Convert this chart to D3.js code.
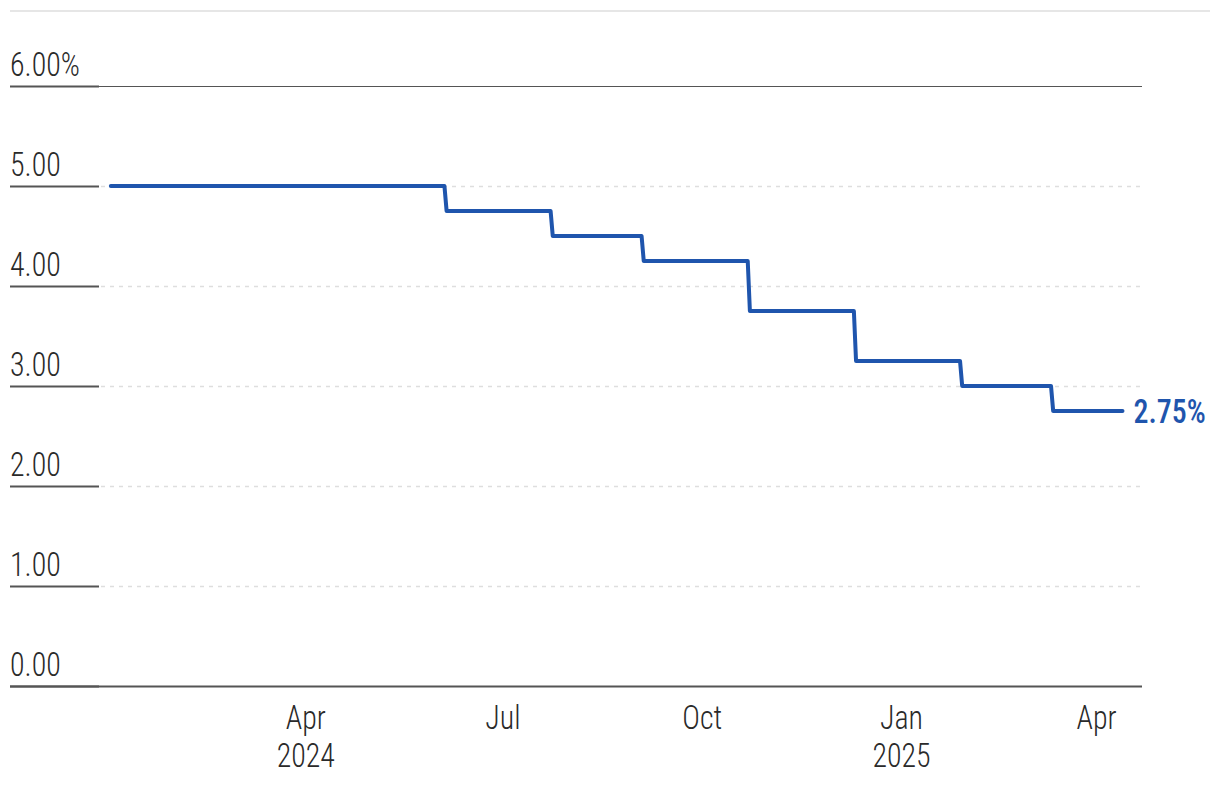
<!DOCTYPE html>
<html><head><meta charset="utf-8">
<script src="https://cdn.jsdelivr.net/npm/d3@7"></script>
<style>
html,body{margin:0;padding:0;background:#fff;}
svg text{font-family:"Liberation Sans Narrow","Roboto Condensed","Arial Narrow",sans-serif;}
</style></head>
<body><svg id="c" width="1220" height="786"></svg>
<script>
// Policy rate (%), daily step changes
const dates = ["2024-01-02","2024-06-04","2024-06-05","2024-07-23","2024-07-24","2024-09-03","2024-09-04","2024-10-22","2024-10-23","2024-12-10","2024-12-11","2025-01-28","2025-01-29","2025-03-11","2025-03-12","2025-04-13"];
const rates = [5.00,5.00,4.75,4.75,4.50,4.50,4.25,4.25,3.75,3.75,3.25,3.25,3.00,3.00,2.75,2.75];
const yTicks = [0,1,2,3,4,5,6];
const yTickLabels = ["0.00","1.00","2.00","3.00","4.00","5.00","6.00%"];
const xTicks = ["2024-04-01","2024-07-01","2024-10-01","2025-01-01","2025-04-01"];
const xTickLabels = [["Apr","2024"],["Jul"],["Oct"],["Jan","2025"],["Apr"]];
const endLabel = "2.75%";

const parse = d3.utcParse("%Y-%m-%d");
const data = dates.map((d,i)=>({date:parse(d), v:rates[i]}));
const svg = d3.select("#c");
const x = d3.scaleUtc().domain([parse("2023-12-28"), parse("2025-04-22")]).range([100,1142]);
const y = d3.scaleLinear().domain([0,6]).range([686,86]);
const FS = 34, SX = 0.88;
const sx = (px,py)=>`translate(${px},${py}) scale(${SX},1) translate(${-px},${-py})`;

// top rule
svg.append("line").attr("x1",10).attr("x2",1210).attr("y1",11).attr("y2",11)
  .attr("stroke","#e6e6e6").attr("stroke-width",2);

// gridlines
const g = svg.append("g");
yTicks.forEach((t,i)=>{
  const yy = Math.round(y(t))+0.5;
  if(t===0 || t===6){
    g.append("line").attr("x1",10).attr("x2",1142).attr("y1",yy).attr("y2",yy)
      .attr("stroke","#555").attr("stroke-width",t===0?2:1.2);
  } else {
    g.append("line").attr("x1",101).attr("x2",1142).attr("y1",yy).attr("y2",yy)
      .attr("stroke","#dedede").attr("stroke-width",1.5).attr("stroke-dasharray","4,5");
  }
  g.append("line").attr("x1",10).attr("x2",99).attr("y1",yy).attr("y2",yy)
    .attr("stroke","#555").attr("stroke-width",2);
  g.append("text").attr("x",10).attr("y",yy-10).text(yTickLabels[i])
    .attr("font-size",FS).attr("font-weight",300).attr("fill","#2a2a2a")
    .attr("transform",sx(10,yy-10));
});

// x labels
xTicks.forEach((t,i)=>{
  const xx = x(parse(t));
  xTickLabels[i].forEach((s,j)=>{
    const yy = 729+j*38;
    svg.append("text").attr("x",xx).attr("y",yy).attr("text-anchor","middle")
      .attr("font-size",FS).attr("font-weight",300).attr("fill","#2a2a2a").text(s)
      .attr("transform",sx(xx,yy));
  });
});

// line
const line = d3.line().x(d=>x(d.date)).y(d=>y(d.v));
svg.append("path").datum(data).attr("d",line).attr("fill","none")
  .attr("stroke","#1f55ad").attr("stroke-width",4).attr("stroke-linecap","round").attr("stroke-linejoin","round");

const last = data[data.length-1];
const lx = x(last.date)+11, ly = y(last.v)+12;
svg.append("text").attr("x",lx).attr("y",ly)
  .attr("font-size",FS).attr("font-weight",500).attr("fill","#1f55ad").text(endLabel)
  .attr("transform",sx(lx,ly));
</script></body></html>
